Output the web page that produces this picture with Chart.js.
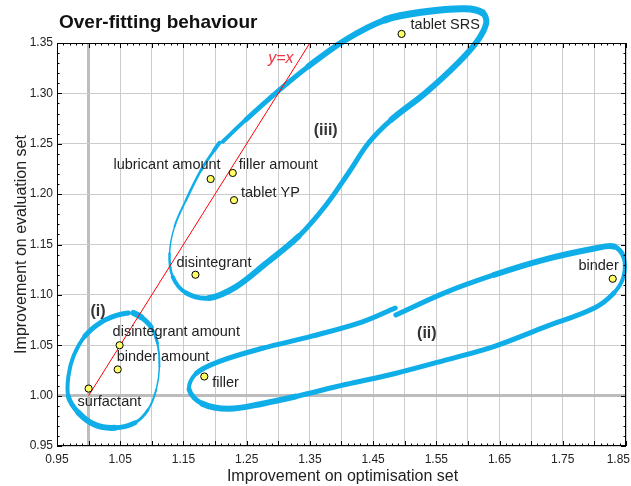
<!DOCTYPE html>
<html>
<head>
<meta charset="utf-8">
<script src="https://cdn.jsdelivr.net/npm/chart.js@4.4.1/dist/chart.umd.min.js"></script>
<style>
  html, body { margin: 0; padding: 0; background: #fff; }
  #wrap { width: 631px; height: 486px; }
</style>
</head>
<body>
<div id="wrap"><canvas id="chart"></canvas></div>
<script>
// data
const factors = ['surfactant', 'binder amount', 'disintegrant amount', 'disintegrant', 'filler',
                 'lubricant amount', 'filler amount', 'tablet YP', 'tablet SRS', 'binder'];
const optImprovement  = [1.000, 1.046, 1.049, 1.169, 1.183, 1.193, 1.228, 1.230, 1.495, 1.829];
const evalImprovement = [1.007, 1.026, 1.050, 1.120, 1.019, 1.215, 1.221, 1.194, 1.359, 1.116];

const xTickLabels = [0.95, 1.05, 1.15, 1.25, 1.35, 1.45, 1.55, 1.65, 1.75, 1.85];
const yTickLabels = [0.95, 1.00, 1.05, 1.10, 1.15, 1.20, 1.25, 1.30, 1.35];

const identityLine = [[1.00, 1.00], [1.35, 1.35]];

// hand drawn groupings, in data units
const loopI = [[1.071, 1.082], [1.083, 1.078], [1.099, 1.068], [1.109, 1.052], [1.112, 1.029],
  [1.107, 1.006], [1.094, 0.986], [1.073, 0.973], [1.041, 0.968], [1.010, 0.971], [0.984, 0.983],
  [0.968, 0.999], [0.968, 1.019], [0.976, 1.039], [0.994, 1.059], [1.020, 1.073], [1.046, 1.080],
  [1.063, 1.082]];
const loopII = [[1.486, 1.080], [1.563, 1.102], [1.642, 1.120], [1.721, 1.135], [1.800, 1.146],
  [1.831, 1.148], [1.846, 1.138], [1.846, 1.118], [1.831, 1.102], [1.800, 1.087], [1.721, 1.068],
  [1.642, 1.049], [1.563, 1.035], [1.485, 1.022], [1.406, 1.011], [1.327, 0.999], [1.275, 0.992],
  [1.222, 0.987], [1.180, 0.992], [1.159, 1.006], [1.170, 1.022], [1.207, 1.034], [1.275, 1.047],
  [1.353, 1.059], [1.432, 1.073], [1.485, 1.087]];
const loopIII = [[1.212, 1.252], [1.249, 1.274], [1.301, 1.303], [1.348, 1.327], [1.406, 1.353],
  [1.469, 1.373], [1.532, 1.381], [1.595, 1.384], [1.623, 1.380], [1.629, 1.370], [1.616, 1.353],
  [1.584, 1.330], [1.532, 1.300], [1.479, 1.274], [1.443, 1.251], [1.411, 1.221], [1.374, 1.188],
  [1.332, 1.158], [1.280, 1.131], [1.233, 1.108], [1.191, 1.097], [1.154, 1.102], [1.133, 1.118],
  [1.128, 1.141], [1.136, 1.168], [1.154, 1.194], [1.178, 1.224], [1.199, 1.244], [1.207, 1.251]];
const groupNames = ['(i)', '(ii)', '(iii)'];
const groupAt = [[1.015, 1.083], [1.535, 1.062], [1.375, 1.263]];

// pen widths along each loop (style)
const widthI = [6, 5, 3, 2, 1.5, 2, 3, 5, 6, 6, 5, 4, 4, 4, 5, 5, 5, 5];
const widthII = [5, 5, 6, 6, 6, 5, 4, 4, 5, 5, 5, 5, 5, 5, 5, 6, 6, 6, 5, 4, 5, 5, 5, 5, 5, 5];
const widthIII = [4, 5, 5, 6, 6, 7, 7, 7, 6, 6, 6, 6, 6, 5, 5, 5, 5, 6, 6, 6, 5, 4, 2.5, 1.5, 2, 2.5, 3, 4, 4];

// label offsets in px from the point: dx, dy, align
const labelPos = [[-11, 13, 'left'], [-1, -12, 'left'], [-7, -13, 'left'], [-19, -12, 'left'],
  [8, 7, 'left'], [10, -14, 'right'], [6, -8, 'left'], [7, -7, 'left'], [9, -9, 'left'], [6, -13, 'right']];

const BLUE = '#10aee8';
const FONT = '"Liberation Sans", Arial, sans-serif';

function pts(arr) { return arr.map(p => ({ x: p[0], y: p[1] })); }
const isOne = v => Math.abs(v - 1) < 1e-6;

function loopDataset(arr, widths) {
  return {
    data: pts(arr),
    showLine: true,
    borderColor: BLUE,
    borderWidth: 5,
    borderCapStyle: 'round',
    borderJoinStyle: 'round',
    pointRadius: 0,
    tension: 0.35,
    clip: false,
    order: 3,
    segment: { borderWidth: c => widths[c.p0DataIndex] }
  };
}

const decor = {
  id: 'decor',
  afterDraw(chart) {
    const { ctx, chartArea: a, scales: { x, y } } = chart;
    ctx.save();
    // frame
    ctx.strokeStyle = '#000';
    ctx.lineWidth = 1;
    ctx.strokeRect(a.left + 0.5, a.top + 0.5, a.right - a.left - 1, a.bottom - a.top - 1);
    // inward ticks on all four sides
    ctx.beginPath();
    for (let i = 95; i <= 185; i++) {
      const px = Math.round(x.getPixelForValue(i / 100)) + 0.5;
      const len = i % 5 === 0 ? 5 : 2.5;
      ctx.moveTo(px, a.bottom); ctx.lineTo(px, a.bottom - len);
      ctx.moveTo(px, a.top); ctx.lineTo(px, a.top + len);
    }
    for (let i = 95; i <= 135; i++) {
      const py = Math.round(y.getPixelForValue(i / 100)) + 0.5;
      const len = i % 5 === 0 ? 5 : 2.5;
      ctx.moveTo(a.left, py); ctx.lineTo(a.left + len, py);
      ctx.moveTo(a.right, py); ctx.lineTo(a.right - len, py);
    }
    ctx.stroke();

    // points that sit above the plot frame (the library skips them)
    ctx.fillStyle = '#ffff66';
    optImprovement.forEach((v, i) => {
      if (evalImprovement[i] <= y.max) return;
      ctx.beginPath();
      ctx.arc(x.getPixelForValue(v), y.getPixelForValue(evalImprovement[i]), 3.6, 0, Math.PI * 2);
      ctx.fill();
      ctx.stroke();
    });

    // x tick labels
    ctx.fillStyle = '#222';
    ctx.font = '12px ' + FONT;
    ctx.textBaseline = 'middle';
    ctx.textAlign = 'center';
    xTickLabels.forEach(v => {
      const s = v.toFixed(2);
      const w = ctx.measureText(s).width;
      const px = Math.min(x.getPixelForValue(v), chart.width - 1 - w / 2);
      ctx.fillText(s, px, a.bottom + 14);
    });

    // axis titles
    ctx.font = '16px ' + FONT;
    ctx.fillText('Improvement on optimisation set', (a.left + a.right) / 2 + 1, a.bottom + 31);
    ctx.save();
    ctx.translate(22, (a.top + a.bottom) / 2);
    ctx.rotate(-Math.PI / 2);
    ctx.fillText('Improvement on evaluation set', 0, 0);
    ctx.restore();

    // title
    ctx.fillStyle = '#111';
    ctx.font = 'bold 19px ' + FONT;
    ctx.textAlign = 'left';
    ctx.textBaseline = 'alphabetic';
    ctx.fillText('Over-fitting behaviour', 59, 28);

    // point labels
    ctx.fillStyle = '#222';
    ctx.font = '14.5px ' + FONT;
    ctx.textBaseline = 'middle';
    factors.forEach((f, i) => {
      const [dx, dy, al] = labelPos[i];
      ctx.textAlign = al;
      ctx.fillText(f, x.getPixelForValue(optImprovement[i]) + dx, y.getPixelForValue(evalImprovement[i]) + dy);
    });

    // group labels
    ctx.fillStyle = '#333';
    ctx.font = 'bold 16px ' + FONT;
    ctx.textAlign = 'center';
    groupNames.forEach((g, i) => {
      ctx.fillText(g, x.getPixelForValue(groupAt[i][0]), y.getPixelForValue(groupAt[i][1]));
    });

    // y=x tag
    ctx.fillStyle = '#ee3344';
    ctx.font = 'italic 16px ' + FONT;
    ctx.fillText('y=x', x.getPixelForValue(1.304), y.getPixelForValue(1.335));
    ctx.restore();
  }
};

new Chart(document.getElementById('chart'), {
  type: 'scatter',
  data: {
    datasets: [
      {
        data: optImprovement.map((v, i) => ({ x: v, y: evalImprovement[i] })),
        backgroundColor: '#ffff66',
        borderColor: '#000',
        borderWidth: 1,
        pointRadius: 3.6,
        order: 0
      },
      {
        data: pts(identityLine),
        showLine: true,
        borderColor: '#ff0000',
        borderWidth: 1,
        pointRadius: 0,
        order: 1
      },
      loopDataset(loopI, widthI),
      loopDataset(loopII, widthII),
      loopDataset(loopIII, widthIII)
    ]
  },
  options: {
    responsive: true,
    maintainAspectRatio: false,
    animation: false,
    events: [],
    layout: { padding: { top: 43, right: 2, left: 0, bottom: 0 } },
    plugins: { legend: { display: false }, tooltip: { enabled: false } },
    scales: {
      x: {
        type: 'linear',
        min: 0.95, max: 1.85,
        afterFit: s => { s.height = 40; s.paddingLeft = 0; s.paddingRight = 0; },
        afterBuildTicks: s => { s.ticks = []; for (let i = 0; i <= 18; i++) s.ticks.push({ value: 0.95 + i * 0.05 }); },
        ticks: { display: false },
        border: { display: false },
        grid: {
          drawTicks: false,
          color: c => isOne(c.tick.value) ? '#bdbdbd' : '#cccccc',
          lineWidth: c => isOne(c.tick.value) ? 3 : 1
        }
      },
      y: {
        type: 'linear',
        min: 0.95, max: 1.35,
        afterFit: s => { s.width = 57; },
        afterBuildTicks: s => { s.ticks = yTickLabels.map(v => ({ value: v })); },
        ticks: {
          padding: 4,
          color: '#222',
          font: { size: 12, family: FONT },
          callback: v => v.toFixed(2)
        },
        border: { display: false },
        grid: {
          drawTicks: false,
          color: c => isOne(c.tick.value) ? '#bdbdbd' : '#cccccc',
          lineWidth: c => isOne(c.tick.value) ? 3 : 1
        }
      }
    }
  },
  plugins: [decor]
});
</script>
</body>
</html>
